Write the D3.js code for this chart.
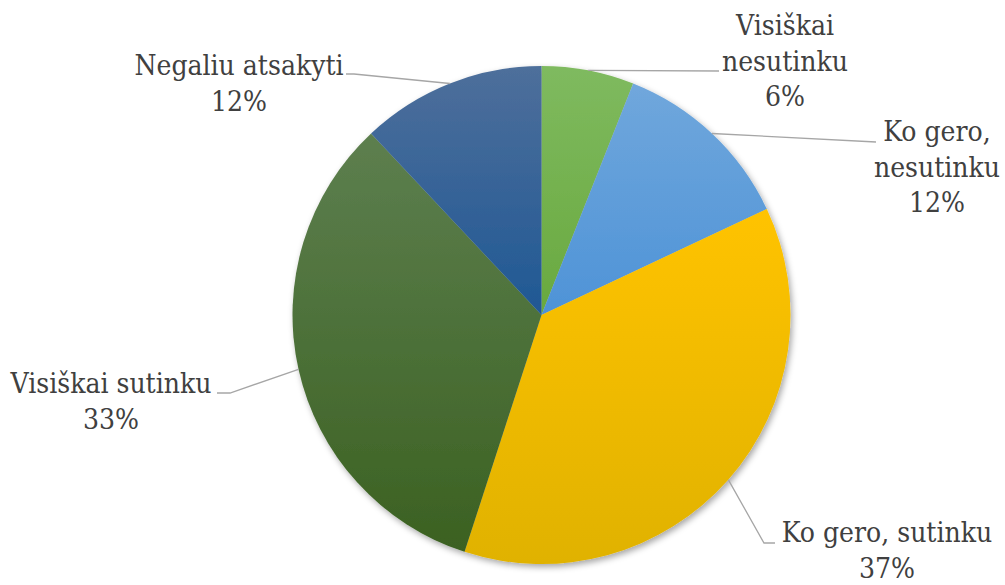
<!DOCTYPE html>
<html>
<head>
<meta charset="utf-8">
<script src="https://cdn.jsdelivr.net/npm/d3@7"></script>
<style>
  html, body { margin: 0; padding: 0; background: #ffffff; }
  svg { display: block; }
</style>
</head>
<body>
<svg id="chart" width="1005" height="585"></svg>
<script>
// Survey answers, clockwise from 12 o'clock
const categories = ["Visiškai nesutinku", "Ko gero, nesutinku", "Ko gero, sutinku", "Visiškai sutinku", "Negaliu atsakyti"];
const values = [6, 12, 37, 33, 12];
// Label text lines (category split for wrapping)
const labelLines = [["Visiškai", "nesutinku"], ["Ko gero,", "nesutinku"], ["Ko gero, sutinku"], ["Visiškai sutinku"], ["Negaliu atsakyti"]];
// Slice fills: top / bottom colour of each vertical gradient
const topColors = ["#7fba5f", "#70a7dc", "#ffc300", "#5d7f4f", "#4e6f9b"];
const bottomColors = ["#69a93f", "#4e93d7", "#e0b200", "#3b6121", "#1f5894"];

// Layout of labels: text centre x, first baseline y, and leader bend/end points
const labelLayout = [
  { cx: 785, y: 35,  elbow: null,       end: [719, 71] },
  { cx: 937, y: 141, elbow: null,       end: [876, 142] },
  { cx: 887, y: 542, elbow: [764, 543], end: [775, 543] },
  { cx: 111, y: 393, elbow: [230, 393], end: [217, 393] },
  { cx: 239, y: 75,  elbow: [354, 74],  end: [346, 74] }
];

const cx = 541.5, cy = 315, radius = 249;
const lineGap = 35.5;
const fontFamily = "'DejaVu Serif Condensed', 'DejaVu Serif', serif";

const svg = d3.select("#chart");
const defs = svg.append("defs");

// Soft shadow below the pie
const shadow = defs.append("filter").attr("id", "pieShadow")
  .attr("x", "-10%").attr("y", "-10%").attr("width", "120%").attr("height", "120%");
shadow.append("feDropShadow")
  .attr("dx", 2).attr("dy", 3).attr("stdDeviation", 3)
  .attr("flood-color", "#000").attr("flood-opacity", 0.35);

categories.forEach((c, i) => {
  const g = defs.append("linearGradient").attr("id", "grad" + i)
    .attr("x1", 0).attr("y1", 0).attr("x2", 0).attr("y2", 1);
  g.append("stop").attr("offset", "0%").attr("stop-color", topColors[i]);
  g.append("stop").attr("offset", "100%").attr("stop-color", bottomColors[i]);
});

const pie = d3.pie().sort(null).value(d => d)(values);
const arc = d3.arc().innerRadius(0).outerRadius(radius);

const pieG = svg.append("g")
  .attr("transform", `translate(${cx},${cy})`)
  .attr("filter", "url(#pieShadow)");

pieG.selectAll("path.slice")
  .data(pie)
  .join("path")
  .attr("class", "slice")
  .attr("d", arc)
  .attr("fill", (d, i) => `url(#grad${i})`);

// Leader lines from slice edge (mid-angle) to label
const total = d3.sum(values);
const lines = svg.append("g");
pie.forEach((d, i) => {
  const mid = (d.startAngle + d.endAngle) / 2;
  const sx = cx + radius * Math.sin(mid);
  const sy = cy - radius * Math.cos(mid);
  const L = labelLayout[i];
  const pts = [[sx, sy]];
  if (L.elbow) pts.push(L.elbow);
  pts.push(L.end);
  lines.append("path")
    .attr("d", d3.line()(pts))
    .attr("fill", "none")
    .attr("stroke", "#a6a6a6")
    .attr("stroke-width", 1.3);
});

// Labels: category lines and percentage
const labels = svg.append("g");
labelLayout.forEach((L, i) => {
  const pct = Math.round(values[i] / total * 100) + "%";
  const text = labels.append("text")
    .attr("font-family", fontFamily)
    .attr("font-stretch", "condensed")
    .attr("font-size", 28)
    .attr("fill", "#404040")
    .attr("text-anchor", "middle");
  labelLines[i].concat([pct]).forEach((t, k) => {
    text.append("tspan")
      .attr("x", L.cx)
      .attr("y", L.y + k * lineGap)
      .text(t);
  });
});
</script>
</body>
</html>
